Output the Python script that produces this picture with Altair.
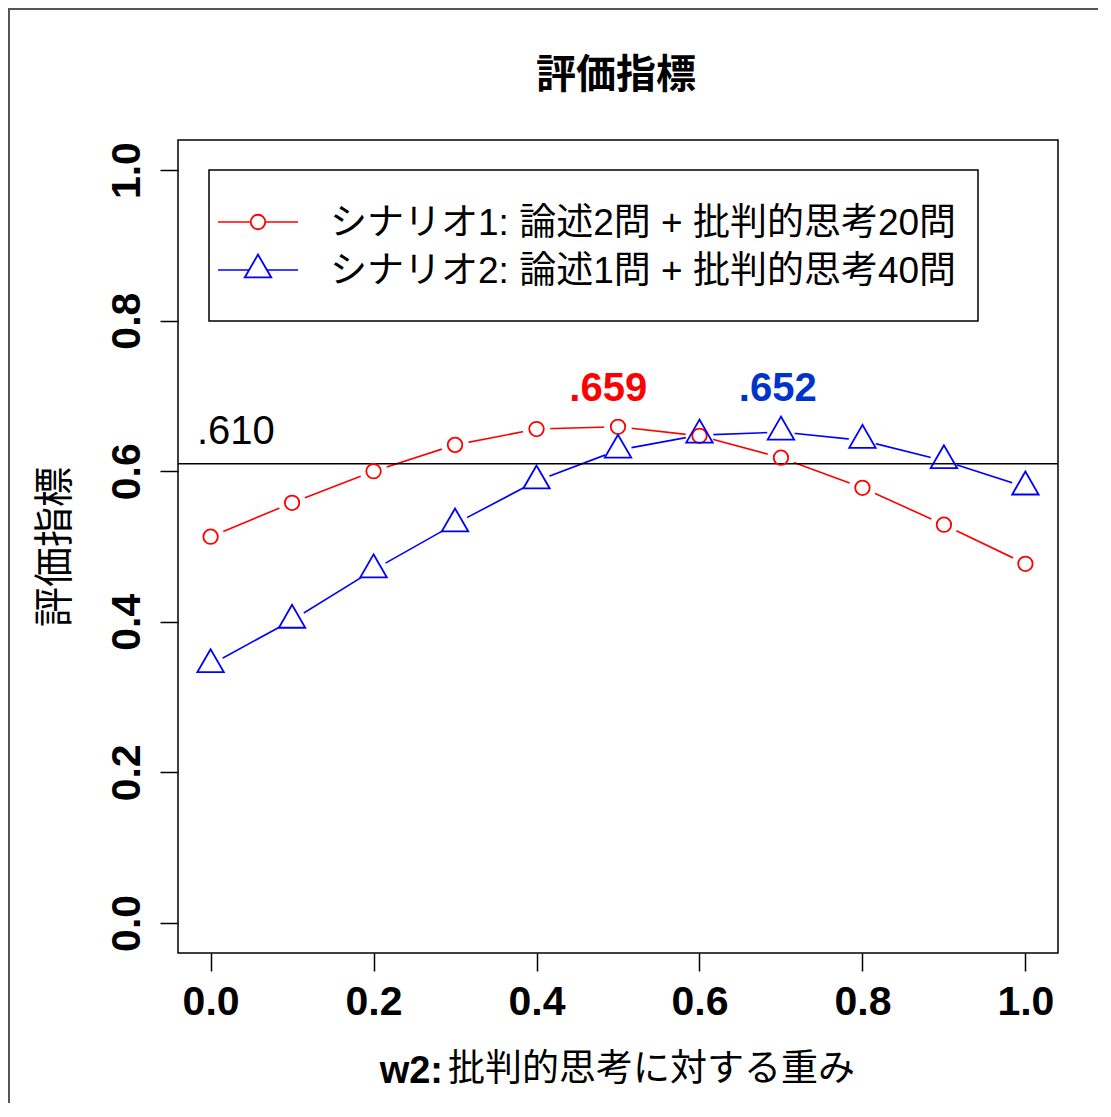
import altair as alt
import pandas as pd

# ---------------- data ----------------
w2 = [0.0, 0.1, 0.2, 0.3, 0.4, 0.5, 0.6, 0.7, 0.8, 0.9, 1.0]
scenario1 = [0.513, 0.558, 0.600, 0.635, 0.656, 0.659, 0.647, 0.618, 0.578, 0.529, 0.477]
scenario2 = [0.343, 0.402, 0.469, 0.530, 0.587, 0.628, 0.648, 0.652, 0.641, 0.614, 0.579]
series_names = ["シナリオ1: 論述2問 + 批判的思考20問", "シナリオ2: 論述1問 + 批判的思考40問"]
series_colors = ["#ff0000", "#0000ff"]
ref_value = 0.610

ann_text = [".610", ".659", ".652"]
ann_x = [0.031, 0.488, 0.696]
ann_y = [0.652, 0.709, 0.709]

x_ticks = [0.0, 0.2, 0.4, 0.6, 0.8, 1.0]
y_ticks = [0.0, 0.2, 0.4, 0.6, 0.8, 1.0]

title_text = "評価指標"
y_title = "評価指標"
x_title_bold = "w2:"
x_title_rest = "批判的思考に対する重み"

# ---------------- frames ----------------
df = pd.DataFrame({
    "w2": w2 + w2,
    "score": scenario1 + scenario2,
    "series": [series_names[0]] * len(w2) + [series_names[1]] * len(w2),
})
df1 = df[df.series == series_names[0]]
df2 = df[df.series == series_names[1]]
one = pd.DataFrame({"k": [0]})
ref_df = pd.DataFrame({"score": [ref_value]})
ann_df = pd.DataFrame({"w2": ann_x, "score": ann_y, "label": ann_text})

W, H = 880, 813
CJK = "Liberation Sans, Noto Sans CJK JP"

xs = alt.Scale(domain=[-0.04, 1.04], nice=False, zero=False)
ys = alt.Scale(domain=[-0.04, 1.04], nice=False, zero=False)

X = alt.X("w2:Q", scale=xs,
          axis=alt.Axis(values=x_ticks, format=".1f", title=None,
                        labelPadding=11, labelAngle=0))
Y = alt.Y("score:Q", scale=ys,
          axis=alt.Axis(values=y_ticks, format=".1f", title=y_title,
                        labelAngle=270, labelAlign="center", labelBaseline="alphabetic",
                        labelPadding=21,
                        titleFont="Noto Sans CJK JP", titleFontSize=40,
                        titleFontWeight="normal", titleAngle=270,
                        titleX=-123, titleY=H / 2, titleAlign="center",
                        titleBaseline="middle", titleColor="black"))

color_scale = alt.Scale(domain=series_names, range=series_colors)

lines = alt.Chart(df).mark_line(strokeWidth=1.6).encode(
    x=X, y=Y,
    color=alt.Color("series:N", scale=color_scale, legend=None),
    detail="series:N",
)
halos = alt.Chart(df).mark_point(shape="circle", filled=True, color="white",
                                 opacity=1, size=760).encode(x=X, y=Y)
ref_rule = alt.Chart(ref_df).mark_rule(color="black", strokeWidth=1.5).encode(y=Y)

circles = alt.Chart(df1).mark_point(shape="circle", size=210, color=series_colors[0],
                                    strokeWidth=1.8, opacity=1).encode(x=X, y=Y)
triangles = alt.Chart(df2).mark_point(shape="triangle-up", size=700, color=series_colors[1],
                                      strokeWidth=1.8, opacity=1, yOffset=-4).encode(x=X, y=Y)

ann_base = alt.Chart(ann_df)
ann610 = ann_base.transform_filter(alt.datum.label == ann_text[0]).mark_text(
    font="Liberation Sans", fontSize=40, color="black", baseline="middle", align="center"
).encode(x=X, y=Y, text="label:N")
ann659 = ann_base.transform_filter(alt.datum.label == ann_text[1]).mark_text(
    font="Liberation Sans", fontSize=40, fontWeight="bold", color="#ff0000",
    baseline="middle", align="center"
).encode(x=X, y=Y, text="label:N")
ann652 = ann_base.transform_filter(alt.datum.label == ann_text[2]).mark_text(
    font="Liberation Sans", fontSize=40, fontWeight="bold", color="#0033cc",
    baseline="middle", align="center"
).encode(x=X, y=Y, text="label:N")

# ---------------- legend (drawn like R's legend box) ----------------
lg_box = alt.Chart(one).mark_rect(fill="white", stroke="black", strokeWidth=1.5).encode(
    x=alt.value(31), x2=alt.value(800), y=alt.value(30), y2=alt.value(181))
lg_line1 = alt.Chart(one).mark_rule(color=series_colors[0], strokeWidth=1.6).encode(
    x=alt.value(40), x2=alt.value(120), y=alt.value(82))
lg_line2 = alt.Chart(one).mark_rule(color=series_colors[1], strokeWidth=1.6).encode(
    x=alt.value(40), x2=alt.value(120), y=alt.value(130))
lg_pt1 = alt.Chart(one).mark_point(shape="circle", size=210, stroke=series_colors[0],
                                   fill="white", fillOpacity=1, strokeWidth=1.8, opacity=1).encode(
    x=alt.value(80), y=alt.value(82))
lg_pt2 = alt.Chart(one).mark_point(shape="triangle-up", size=700, stroke=series_colors[1],
                                   fill="white", fillOpacity=1, strokeWidth=1.8, opacity=1,
                                   yOffset=-4).encode(
    x=alt.value(80), y=alt.value(130))
lg_txt1 = alt.Chart(one).mark_text(font=CJK, fontSize=37, align="left", baseline="middle",
                                   color="black").encode(
    x=alt.value(152), y=alt.value(84), text=alt.datum(series_names[0]))
lg_txt2 = alt.Chart(one).mark_text(font=CJK, fontSize=37, align="left", baseline="middle",
                                   color="black").encode(
    x=alt.value(152), y=alt.value(132), text=alt.datum(series_names[1]))

# ---------------- title ----------------
title_mark = alt.Chart(one).mark_text(font="Noto Sans CJK JP", fontSize=40, fontWeight="bold",
                                      align="center", baseline="middle", color="black").encode(
    x=alt.value(W / 2 - 2), y=alt.value(-64), text=alt.datum(title_text))

# ---------------- x-axis title (bold "w2:" + normal rest) ----------------
xt_bold = alt.Chart(one).mark_text(font="Liberation Sans", fontSize=38, fontWeight="bold",
                                   align="right", baseline="middle", color="black").encode(
    x=alt.value(265), y=alt.value(932), text=alt.datum(x_title_bold))
xt_rest = alt.Chart(one).mark_text(font="Noto Sans CJK JP", fontSize=37, align="left",
                                   baseline="middle", color="black").encode(
    x=alt.value(270), y=alt.value(930), text=alt.datum(x_title_rest))

# ---------------- outer frame (left and top edge) ----------------
frame_left = alt.Chart(one).mark_rule(color="#555555", strokeWidth=2).encode(
    x=alt.value(-169), y=alt.value(-131), y2=alt.value(H + 150))
frame_top = alt.Chart(one).mark_rule(color="#555555", strokeWidth=2).encode(
    x=alt.value(-170), x2=alt.value(W + 40), y=alt.value(-131))

chart = alt.layer(
    lines, halos, ref_rule, circles, triangles,
    ann610, ann659, ann652,
    lg_box, lg_line1, lg_line2, lg_pt1, lg_pt2, lg_txt1, lg_txt2,
    title_mark, xt_bold, xt_rest, frame_left, frame_top,
).properties(
    width=W, height=H,
    autosize=alt.AutoSizeParams(type="none"),
    padding={"left": 170, "top": 132, "right": 40, "bottom": 150},
    background="white",
).configure_view(
    stroke="black", strokeWidth=1.5, fill="white"
).configure_axis(
    domain=False, grid=False, ticks=True, tickSize=18, tickWidth=1.5, tickColor="black",
    labelFont="Liberation Sans", labelFontWeight="bold", labelFontSize=41,
    labelColor="black", labelOverlap=False, labelFlush=False,
)

chart.save("out.html", embed_options={"renderer": "svg", "actions": False})
